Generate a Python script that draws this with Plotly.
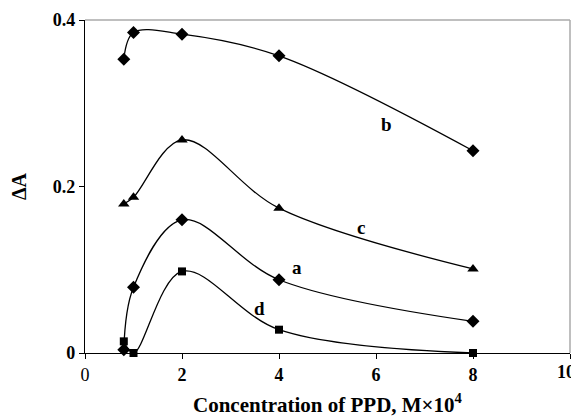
import plotly.graph_objects as go

x_vals = [0.8, 1, 2, 4, 8]
a_vals = [0.004, 0.079, 0.160, 0.088, 0.038]
b_vals = [0.353, 0.385, 0.383, 0.357, 0.243]
c_vals = [0.179, 0.187, 0.256, 0.174, 0.101]
d_vals = [0.014, 0.0, 0.098, 0.028, 0.0]

series_names = ["a", "b", "c", "d"]
label_pos = {"b": (6.21, 0.275), "c": (5.69, 0.151), "a": (4.37, 0.103), "d": (3.59, 0.054)}

x_ticks = [0, 2, 4, 6, 8, 10]
x_ticktext = ["0", "<b>2</b>", "<b>4</b>", "<b>6</b>", "<b>8</b>", ""]
last_x_label = "<b>10</b>"
y_ticks = [0, 0.2, 0.4]
y_ticktext = ["<b>0</b>", "<b>0.2</b>", "<b>0.4</b>"]
x_title = "<b>Concentration of PPD, M×10<sup>4</sup></b>"

FONT = "Liberation Serif, Times New Roman, serif"

fig = go.Figure()
series = {"a": (a_vals, "diamond", 10), "b": (b_vals, "diamond", 10),
          "c": (c_vals, "triangle-up", 10), "d": (d_vals, "square", 8)}
for name in series_names:
    vals, sym, size = series[name]
    fig.add_trace(go.Scatter(
        x=x_vals, y=vals, mode="lines+markers", name=name,
        line=dict(color="black", width=1.3, shape="spline", smoothing=1.0),
        marker=dict(symbol=sym, size=size, color="black"),
        cliponaxis=False, showlegend=False))

for name in series_names:
    lx, ly = label_pos[name]
    fig.add_annotation(x=lx, y=ly, text=f"<b>{name}</b>", showarrow=False,
                       font=dict(family=FONT, size=19, color="black"))

# last x tick label, right-anchored so it stays inside the page
fig.add_annotation(x=x_ticks[-1], y=0, xref="x", yref="y", text=last_x_label,
                   showarrow=False, xanchor="right", yanchor="top",
                   xshift=7, yshift=-7, font=dict(family=FONT, size=18, color="black"))

# x-axis title
fig.add_annotation(x=0.5, y=-0.152, xref="paper", yref="paper", text=x_title,
                   showarrow=False, xanchor="center", yanchor="middle",
                   font=dict(family=FONT, size=21, color="black"))

# gray top and right frame lines
fig.add_shape(type="line", xref="paper", yref="paper", x0=0, x1=1, y0=1, y1=1,
              line=dict(color="#aaaaaa", width=1.5))
fig.add_shape(type="line", xref="paper", yref="paper", x0=1, x1=1, y0=0, y1=1,
              line=dict(color="#aaaaaa", width=1.5))

# page body has an 8px offset at top/left, so the figure is 8px smaller
fig.update_layout(
    width=571, height=408,
    margin=dict(l=77, r=9, t=12, b=63),
    paper_bgcolor="white", plot_bgcolor="white",
    font=dict(family=FONT, size=17, color="black"),
    xaxis=dict(range=[0, 10], tickvals=x_ticks, ticktext=x_ticktext,
               showgrid=False, zeroline=False, showline=True, linecolor="black",
               linewidth=1.3, ticks="outside", ticklen=5, tickcolor="black",
               tickfont=dict(family=FONT, size=18), automargin=False),
    yaxis=dict(range=[0, 0.4], tickvals=y_ticks, ticktext=y_ticktext,
               showgrid=False, zeroline=False, showline=True, linecolor="black",
               linewidth=1.3, ticks="outside", ticklen=5, tickcolor="black",
               tickfont=dict(family=FONT, size=18), automargin=False,
               title=dict(text="<b>ΔA</b>", font=dict(family=FONT, size=20), standoff=24)),
)

fig.write_html("out.html")
